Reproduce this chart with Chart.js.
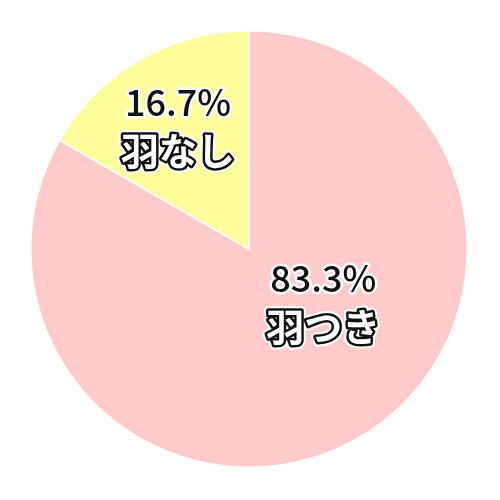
<!DOCTYPE html>
<html>
<head>
<meta charset="utf-8">
<script src="https://cdn.jsdelivr.net/npm/chart.js@4"></script>
<style>
  body { margin: 0; background: #fff; }
  #c { display: block; }
</style>
</head>
<body>
<canvas id="c" width="500" height="500"></canvas>
<script>
// データ
const labels = ['羽つき', '羽なし'];
const values = [83.3, 16.7];
const colors = ['#ffcaca', '#fffc9c'];
// ラベル位置 (半径の割合, 中央角からのずれ[度])
const labelRadius = [0.42, 0.65];
const labelShift = [-24, 0];

const pieLabels = {
    id: 'pieLabels',
    afterDatasetsDraw(chart) {
        const ctx = chart.ctx;
        const meta = chart.getDatasetMeta(0);
        meta.data.forEach(function(arc, i) {
            const p = arc.getProps(['x', 'y', 'startAngle', 'endAngle', 'outerRadius'], true);
            const mid = (p.startAngle + p.endAngle) / 2 + labelShift[i] * Math.PI / 180;
            const r = p.outerRadius * labelRadius[i];
            const x = p.x + Math.cos(mid) * r;
            const y = p.y + Math.sin(mid) * r;
            ctx.save();
            ctx.textAlign = 'center';
            ctx.textBaseline = 'middle';
            ctx.lineJoin = 'round';
            // パーセント
            ctx.font = '500 36px "Noto Sans CJK JP", "Noto Sans"';
            ctx.lineWidth = 5;
            ctx.strokeStyle = '#fff';
            ctx.strokeText(values[i].toFixed(1) + '%', x, y - 24);
            ctx.fillStyle = '#111';
            ctx.fillText(values[i].toFixed(1) + '%', x, y - 24);
            // 名前 (白抜き)
            ctx.font = 'bold 38px "Noto Sans CJK JP", "Noto Sans"';
            ctx.lineWidth = 9;
            ctx.strokeStyle = '#fff';
            ctx.strokeText(labels[i], x, y + 24);
            ctx.lineWidth = 5;
            ctx.strokeStyle = '#111';
            ctx.strokeText(labels[i], x, y + 24);
            ctx.fillStyle = '#fff';
            ctx.fillText(labels[i], x, y + 24);
            ctx.restore();
        });
    }
};

new Chart(document.getElementById('c'), {
    type: 'pie',
    data: {
        labels: labels,
        datasets: [{
            data: values,
            backgroundColor: colors,
            borderColor: '#fff',
            borderWidth: 1.5
        }]
    },
    options: {
        responsive: false,
        animation: false,
        layout: { padding: { left: 30, right: 32, top: 30, bottom: 32 } },
        plugins: {
            legend: { display: false },
            tooltip: { enabled: false }
        }
    },
    plugins: [pieLabels]
});
</script>
</body>
</html>
